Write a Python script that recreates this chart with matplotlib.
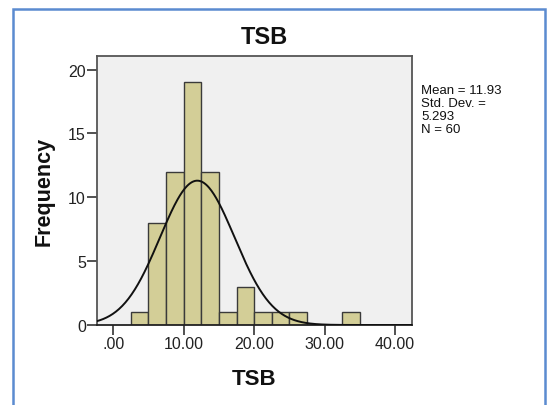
import numpy as np
import matplotlib
matplotlib.use("Agg")
import matplotlib.pyplot as plt
from matplotlib.patches import Rectangle

plt.rcParams['font.family'] = ['Liberation Sans', 'DejaVu Sans']

# Data
bin_edges = [2.5, 5.0, 7.5, 10.0, 12.5, 15.0, 17.5, 20.0, 22.5, 25.0, 27.5, 30.0, 32.5, 35.0]
counts = [1, 8, 12, 19, 12, 1, 3, 1, 1, 1, 0, 0, 1]
mean_val = 11.93
std_val = 5.293
n_val = 60
bin_width = 2.5
xticks = [0, 10, 20, 30, 40]
xtick_labels = ['.00', '10.00', '20.00', '30.00', '40.00']
yticks = [0, 5, 10, 15, 20]
title = 'TSB'
xlabel = 'TSB'
ylabel = 'Frequency'
stats_lines = [f'Mean = {mean_val:.2f}', 'Std. Dev. =', f'{std_val:.3f}', f'N = {n_val}']

W, H = 547, 406
fig = plt.figure(figsize=(W / 100, H / 100), dpi=100)

# outer blue border
fig.patches.append(Rectangle((13 / W, -0.01), (545 - 13) / W, 1 - 10 / H + 0.01,
                             transform=fig.transFigure, fill=False,
                             edgecolor='#5b8bd0', linewidth=1.8))

ax = fig.add_axes([97 / W, 1 - 326 / H, (412 - 97) / W, (326 - 57) / H])
ax.set_facecolor('#f0f0f0')

lefts = bin_edges[:-1]
ax.bar(lefts, counts, width=bin_width, align='edge', color='#d3ce97',
       edgecolor='#3a3a3a', linewidth=1.0, zorder=2)

xs = np.linspace(-2.3, 42.4, 400)
ys = n_val * bin_width / (std_val * np.sqrt(2 * np.pi)) * np.exp(-0.5 * ((xs - mean_val) / std_val) ** 2)
ax.plot(xs, ys, color='#111111', linewidth=1.4, zorder=3)

ax.set_xlim(-2.3, 42.4)
ax.set_ylim(0, 21.07)
ax.set_xticks(xticks)
ax.set_xticklabels(xtick_labels)
ax.set_yticks(yticks)
ax.tick_params(axis='both', direction='out', length=7, width=1.2, color='#333333',
               labelsize=11.5, labelcolor='#222222', pad=1)
for s in ax.spines.values():
    s.set_color('#555555')
    s.set_linewidth(1.3)
ax.spines['bottom'].set_color('#222222')

fig.text(264 / W, 1 - 38 / H, title, ha='center', va='center', fontsize=17,
         fontweight='bold', color='#111111')
fig.text(254 / W, 1 - 380 / H, xlabel, ha='center', va='center', fontsize=16,
         fontweight='bold', color='#111111')
fig.text(44 / W, 1 - 191 / H, ylabel, ha='center', va='center', rotation=90,
         fontsize=15.5, fontweight='bold', color='#111111')

baselines = [94, 107, 120, 133]
for line, b in zip(stats_lines, baselines):
    fig.text(421 / W, 1 - b / H, line, ha='left', va='baseline', fontsize=9.5,
             color='#111111')

fig.savefig('out.png', dpi=100)
